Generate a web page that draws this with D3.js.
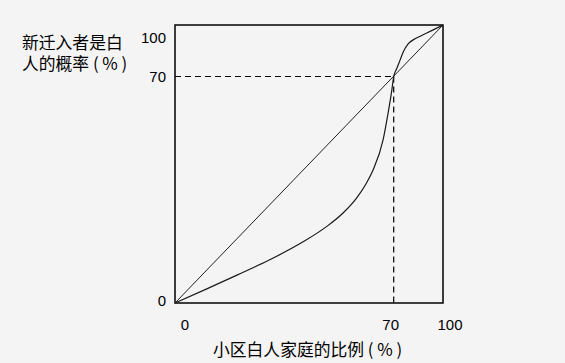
<!DOCTYPE html>
<html>
<head>
<meta charset="utf-8">
<script src="https://cdn.jsdelivr.net/npm/d3@7"></script>
<style>
  html, body { margin: 0; padding: 0; background: #f4f4f4; }
  svg { display: block; }
</style>
</head>
<body>
<div id="viz-container"></div>
<script>
let width = 565;
let height = 363;

// data (x = share of white households, y = chance new mover is white)
let curveX = [0, 10, 20, 30, 41, 48.5, 53.8, 58.1, 61.3, 63.4, 66.6, 68.2, 69.4, 70, 71.8, 73.8, 75.8, 78.9, 83, 87, 93.1, 100];
let curveY = [0, 4.3, 8.7, 13.2, 18.9, 23.6, 27.8, 32.4, 37.1, 41.1, 50.4, 58.7, 65.8, 70, 74.5, 79.4, 84.3, 89.1, 92, 93.9, 96.7, 100];
let diagonal = [0, 100];
let tipping = 70;
let xTicks = [0, 70, 100];
let yTicks = [0, 70, 100];
let xTitle = '小区白人家庭的比例 ( % )';
let yTitle = ['新迁入者是白', '人的概率 ( % )'];

let plotLeft = 175, plotRight = 443, plotTop = 25, plotBottom = 303;

// the axes are not linear in the drawing: 70 sits at about 82% of the frame
let x = d3.scaleLinear().domain([0, 70, 100]).range([plotLeft, 393.7, plotRight]);
let y = d3.scaleLinear().domain([0, 70, 100]).range([plotBottom, 76.5, plotTop]);

let viz = d3.select('#viz-container')
  .append('svg')
  .attr('width', width)
  .attr('height', height);

viz.append('rect')
  .attr('width', width)
  .attr('height', height)
  .attr('fill', '#f4f4f4');

// frame
viz.append('rect')
  .attr('x', x(0))
  .attr('y', y(100))
  .attr('width', x(100) - x(0))
  .attr('height', y(0) - y(100))
  .attr('fill', 'none')
  .attr('stroke', '#000')
  .attr('stroke-width', 1.5);

// dashed guides to the tipping point
viz.append('line')
  .attr('x1', x(0)).attr('y1', y(tipping))
  .attr('x2', x(tipping)).attr('y2', y(tipping))
  .attr('stroke', '#000')
  .attr('stroke-width', 1.2)
  .attr('stroke-dasharray', '6,4');
viz.append('line')
  .attr('x1', x(tipping)).attr('y1', y(tipping))
  .attr('x2', x(tipping)).attr('y2', y(0))
  .attr('stroke', '#000')
  .attr('stroke-width', 1.2)
  .attr('stroke-dasharray', '6,4');

// diagonal
viz.append('line')
  .attr('x1', x(diagonal[0])).attr('y1', y(diagonal[0]))
  .attr('x2', x(diagonal[1])).attr('y2', y(diagonal[1]))
  .attr('stroke', '#222')
  .attr('stroke-width', 1);

// the curve
let pts = curveX.map((d, i) => [d, curveY[i]]);
let line = d3.line()
  .x(d => x(d[0]))
  .y(d => y(d[1]))
  .curve(d3.curveMonotoneX);

viz.append('path')
  .attr('d', line(pts))
  .attr('fill', 'none')
  .attr('stroke', '#1a1a1a')
  .attr('stroke-width', 1.2);

// tick labels (small nudges to match the hand placement)
let xNudge = [10, -3, 7];
let yNudge = [-3, 0, 12];

viz.selectAll('.xlab').data(xTicks).enter()
  .append('text')
  .attr('class', 'xlab')
  .attr('x', (d, i) => x(d) + xNudge[i])
  .attr('y', 330)
  .attr('text-anchor', 'middle')
  .attr('font-family', 'Liberation Sans, Arial, sans-serif')
  .attr('font-size', 15)
  .text(d => d);

viz.selectAll('.ylab').data(yTicks).enter()
  .append('text')
  .attr('class', 'ylab')
  .attr('x', 166)
  .attr('y', (d, i) => y(d) + yNudge[i] + 5.5)
  .attr('text-anchor', 'end')
  .attr('font-family', 'Liberation Sans, Arial, sans-serif')
  .attr('font-size', 15)
  .text(d => d);

// titles
viz.append('text')
  .attr('x', 213)
  .attr('y', 356)
  .attr('font-family', 'Noto Sans CJK SC, sans-serif')
  .attr('font-size', 16.8)
  .attr('xml:space', 'preserve')
  .text(xTitle);

viz.selectAll('.ytitle').data(yTitle).enter()
  .append('text')
  .attr('class', 'ytitle')
  .attr('x', 22)
  .attr('y', (d, i) => 48.5 + i * 21)
  .attr('font-family', 'Noto Sans CJK SC, sans-serif')
  .attr('font-size', 16.8)
  .text(d => d);
</script>
</body>
</html>
